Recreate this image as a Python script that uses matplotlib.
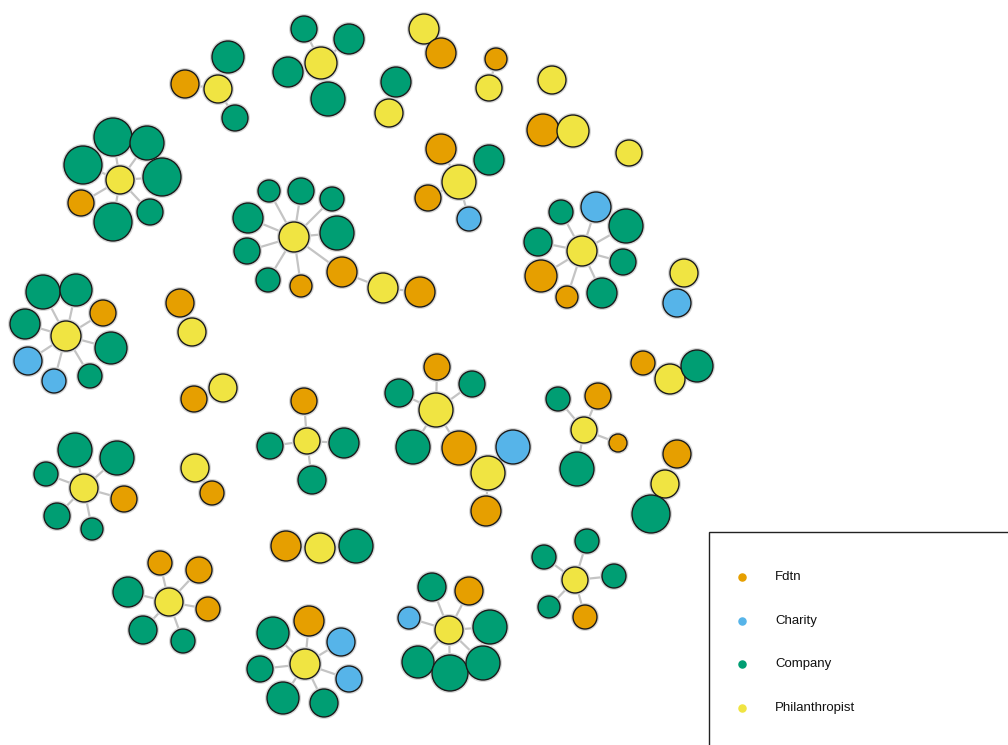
import matplotlib.pyplot as plt
from matplotlib.patches import Circle, Rectangle

# node type codes: O = Fdtn, B = Charity, G = Company, Y = Philanthropist
node_type = ["O","Y","G","G",
             "G","G","Y","G","G",
             "Y","O","O","Y","Y","G","Y","O","Y","Y",
             "O","G","Y","O","B",
             "G","G","G","Y","G","O","G","G",
             "G","G","G","G","Y","G","G","G","O","O","Y","O",
             "G","B","G","G","Y","G","O","O","G","Y","B",
             "G","G","O","G","Y","G","B","B","G","O","Y","O","Y",
             "G","G","G","Y","O","G","G","Y","O",
             "O","O","G","Y","O","G","G",
             "O","G","Y","G","G","O","Y","G",
             "O","G","G","Y","G","O","B","Y","O",
             "O","Y","G","G","O","Y","O","G","O","Y","G",
             "O","G","B","Y","G","B","G","G",
             "G","O","B","Y","G","G","G","G",
             "G","G","Y","G","G","O"]

node_x = [185,218,228,235,
          304,349,321,288,328,
          424,441,496,489,552,396,389,543,573,629,
          441,489,459,428,469,
          113,147,83,120,162,81,113,150,
          269,301,332,248,294,337,247,268,301,342,383,420,
          561,596,626,538,582,623,541,567,602,684,677,
          43,76,103,25,66,111,28,54,90,180,192,194,223,
          75,117,46,84,124,57,92,195,212,
          160,199,128,169,208,143,183,
          304,270,307,344,312,286,320,356,
          437,399,472,436,413,459,513,488,486,
          643,670,697,558,598,584,618,577,677,665,651,
          309,273,341,305,260,349,283,324,
          432,469,409,449,490,418,450,483,
          587,544,575,614,549,585]

node_y = [84,89,57,118,
          29,39,63,72,99,
          29,53,59,88,80,82,113,130,131,153,
          149,160,182,198,219,
          137,143,165,180,177,203,222,212,
          191,191,199,218,237,233,251,280,286,272,288,292,
          212,207,226,242,251,262,276,297,293,273,303,
          292,290,313,324,336,348,361,381,376,303,332,399,388,
          450,458,474,488,499,516,529,468,493,
          563,570,592,602,609,630,641,
          401,446,441,443,480,546,548,546,
          367,393,384,410,447,448,447,473,511,
          363,379,366,399,396,430,443,469,454,484,514,
          621,633,642,664,669,679,698,703,
          587,591,618,630,627,662,673,663,
          541,557,580,576,607,617]

node_size = [14,14,16,13,
             13,15,16,15,17,
             15,15,11,13,14,15,14,16,16,13,
             15,15,17,13,12,
             19,17,19,14,19,13,19,13,
             11,13,12,15,15,17,13,12,11,15,15,15,
             12,15,17,14,15,13,16,11,15,14,14,
             17,16,13,15,15,16,14,12,12,14,14,13,14,
             17,17,12,14,13,13,11,14,12,
             12,13,15,14,12,14,12,
             13,13,13,15,14,15,15,17,
             13,14,13,17,17,17,17,17,15,
             12,15,16,12,13,13,9,17,14,14,19,
             15,16,14,15,13,13,16,14,
             14,14,11,14,17,16,18,17,
             12,12,13,12,11,12]

edges = [(1,0),(1,2),(1,3),
         (6,4),(6,5),(6,7),(6,8),
         (9,10),(11,12),(14,15),(16,17),
         (21,19),(21,20),(21,22),(21,23),
         (27,24),(27,25),(27,26),(27,28),(27,29),(27,30),(27,31),
         (36,32),(36,33),(36,34),(36,35),(36,37),(36,38),(36,39),(36,40),(36,41),(41,42),(42,43),
         (48,44),(48,45),(48,46),(48,47),(48,49),(48,50),(48,51),(48,52),(53,54),
         (59,55),(59,56),(59,57),(59,58),(59,60),(59,61),(59,62),(59,63),(64,65),(66,67),
         (71,68),(71,69),(71,70),(71,72),(71,73),(71,74),(75,76),
         (80,77),(80,78),(80,79),(80,81),(80,82),(80,83),
         (86,84),(86,85),(86,87),(86,88),(89,90),(90,91),
         (95,92),(95,93),(95,94),(95,96),(95,97),(97,99),(99,98),(99,100),
         (102,101),(102,103),(106,104),(106,105),(106,107),(106,108),(110,109),(110,111),
         (115,112),(115,113),(115,114),(115,116),(115,117),(115,118),(115,119),
         (123,120),(123,121),(123,122),(123,124),(123,125),(123,126),(123,127),
         (130,128),(130,129),(130,131),(130,132),(130,133)]

legend_labels = ["Fdtn", "Charity", "Company", "Philanthropist"]
legend_codes = ["O", "B", "G", "Y"]

colors = {"O": "#E69F00", "B": "#56B4E9", "G": "#009E73", "Y": "#F0E442"}

fig = plt.figure(figsize=(10.08, 7.45), dpi=100)
ax = fig.add_axes([0, 0, 1, 1])
ax.set_xlim(0, 1008)
ax.set_ylim(745, 0)
ax.set_aspect("equal")
ax.axis("off")

# edges
for a, b in edges:
    ax.plot([node_x[a], node_x[b]], [node_y[a], node_y[b]],
            color="#c4c4c4", lw=1.6, zorder=1, solid_capstyle="round")

# nodes
for i in range(len(node_x)):
    ax.add_patch(Circle((node_x[i], node_y[i]), node_size[i] + 1.2,
                        facecolor="none", edgecolor="#d8d8d8", lw=1.2, zorder=2))
    ax.add_patch(Circle((node_x[i], node_y[i]), node_size[i],
                        facecolor=colors[node_type[i]], edgecolor="#1a1a1a",
                        lw=1.0, zorder=3))

# legend box
ax.add_patch(Rectangle((709, 532), 320, 240, facecolor="white",
                       edgecolor="#222222", lw=1.0, zorder=4, clip_on=False))
for k in range(len(legend_labels)):
    ly = 577 + k * 43.7
    ax.scatter([742], [ly], s=26, color=colors[legend_codes[k]], zorder=5)
    ax.text(775, ly, legend_labels[k], fontsize=9.5, family="Liberation Sans",
            va="center", ha="left", color="#111111", zorder=5)

plt.savefig("out.png", dpi=100)
